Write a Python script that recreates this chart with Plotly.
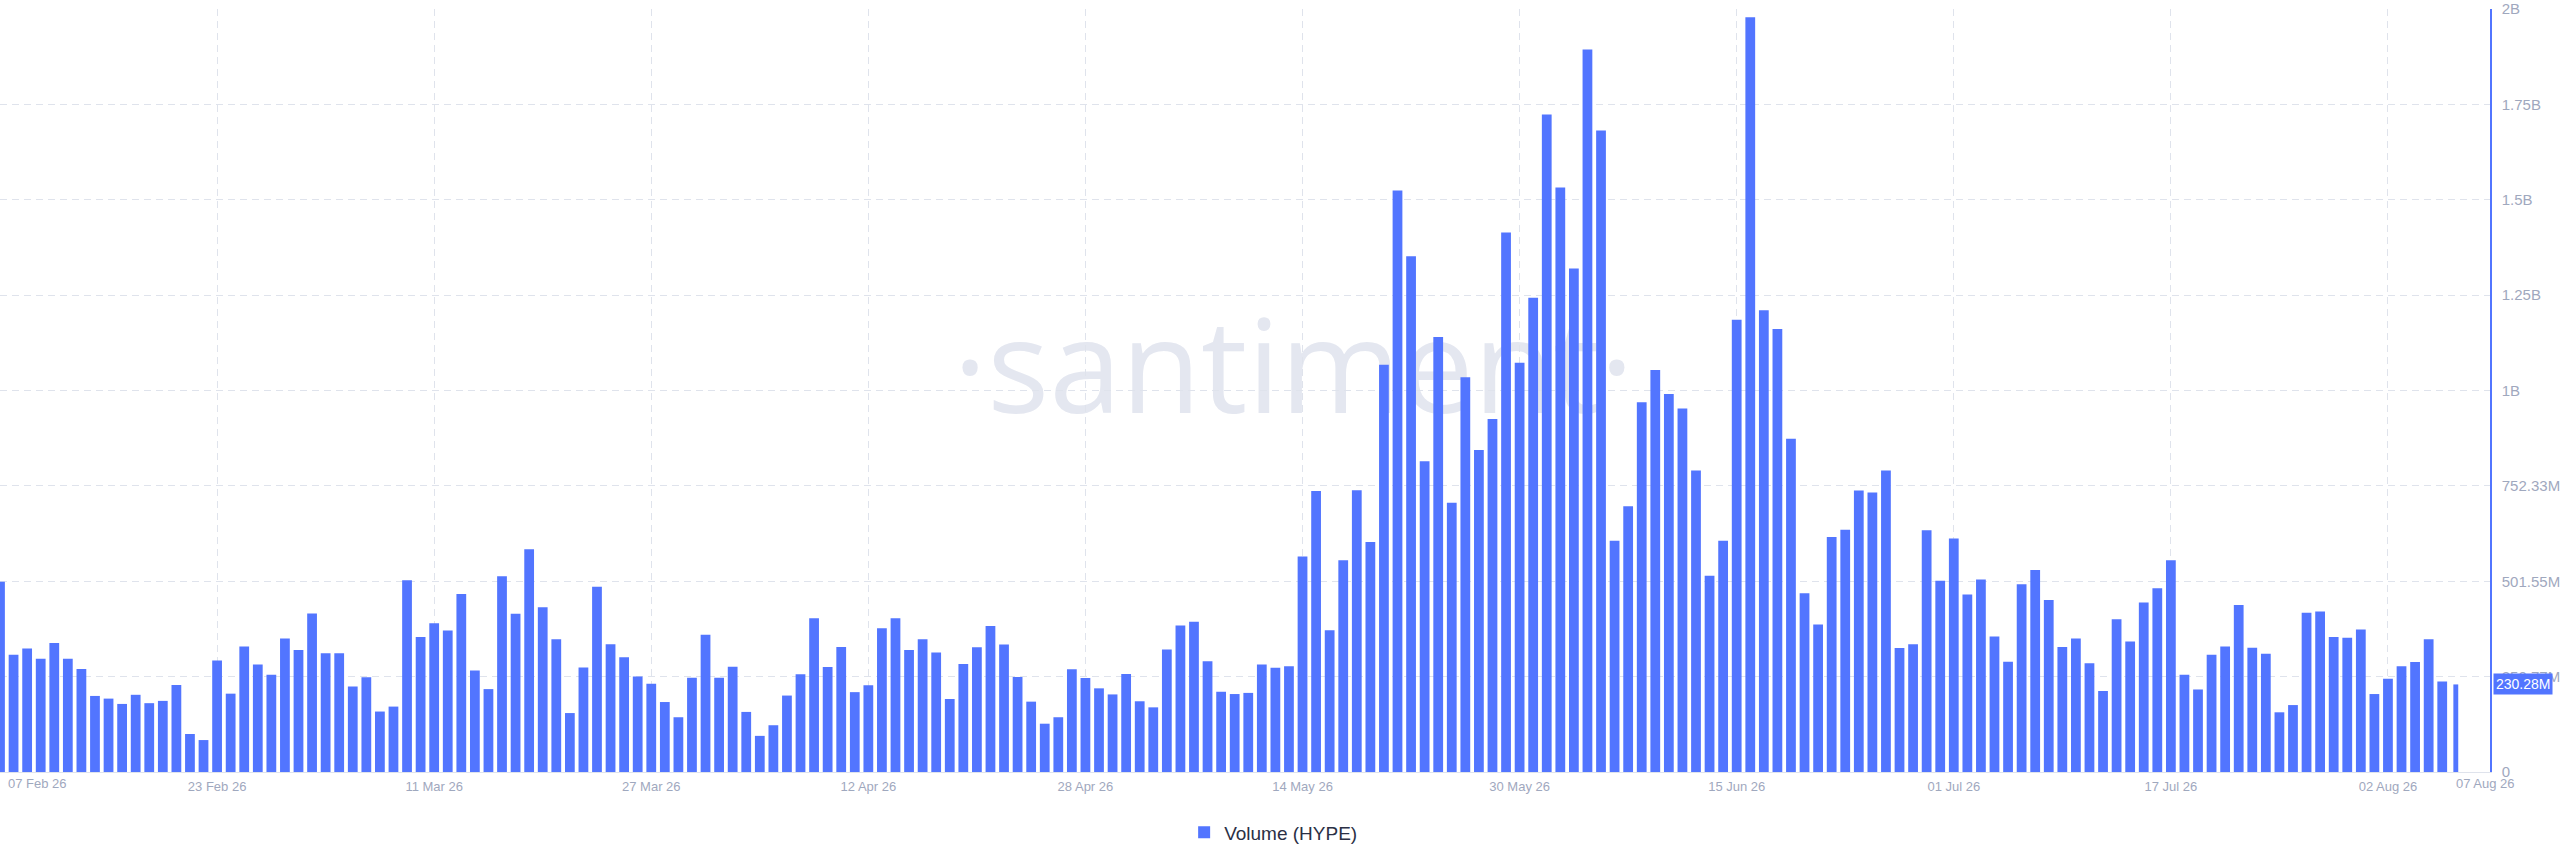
import pandas as pd
import plotly.graph_objects as go

START = "2026-02-07"
END = "2026-08-07"
SERIES_NAME = "Volume (HYPE)"
LAST_LABEL = "230.28M"

# daily volume in millions, one bar per day from 07 Feb 26 to 07 Aug 26
volume_m = [
    500, 308, 325, 298, 339, 298, 271, 200, 193, 179,
    203, 181, 187, 229, 100, 84, 293, 206, 330, 283,
    256, 351, 321, 417, 312, 312, 225, 249, 159, 172,
    504, 355, 391, 372, 468, 267, 218, 515, 416, 586,
    433, 349, 155, 275, 487, 336, 302, 251, 232, 184,
    144, 248, 361, 248, 277, 158, 95, 123, 201, 257,
    404, 276, 329, 210, 228, 378, 404, 321, 349, 314,
    192, 284, 328, 384, 335, 250, 185, 127, 144, 270,
    247, 220, 204, 258, 186, 170, 322, 385, 395, 291,
    211, 205, 208, 283, 274, 278, 567, 739, 373, 557,
    741, 605, 1071, 1529, 1356, 817, 1144, 708, 1038, 847,
    928, 1419, 1076, 1247, 1729, 1537, 1324, 1900, 1687, 608,
    699, 972, 1057, 994, 956, 793, 516, 608, 1189, 1985,
    1214, 1165, 876, 470, 388, 618, 637, 740, 735, 793,
    326, 336, 636, 503, 614, 467, 506, 356, 290, 494,
    531, 452, 329, 351, 286, 213, 402, 343, 446, 483,
    557, 256, 217, 308, 330, 439, 327, 311, 157, 176,
    419, 422, 355, 353, 375, 205, 245, 278, 289, 349,
    238, 230.28,
]

y_tickvals_m = [0, 250.776, 501.552, 752.328, 1003.104, 1253.88, 1504.656, 1755.432, 2006.208]
y_ticktext = ["0", "250.77M", "501.55M", "752.33M", "1B", "1.25B", "1.5B", "1.75B", "2B"]

x_tick_dates = [
    "2026-02-07", "2026-02-23", "2026-03-11", "2026-03-27", "2026-04-12", "2026-04-28",
    "2026-05-14", "2026-05-30", "2026-06-15", "2026-07-01", "2026-07-17", "2026-08-02",
]
x_ticktext = [
    "", "23 Feb 26", "11 Mar 26", "27 Mar 26", "12 Apr 26", "28 Apr 26",
    "14 May 26", "30 May 26", "15 Jun 26", "01 Jul 26", "17 Jul 26", "02 Aug 26",
]
first_label = "07 Feb 26"
end_label = "07 Aug 26"

BLUE = "#5275FF"
GRID = "#DFE3EC"
AXIS_TEXT = "#9FA8BE"
WATERMARK = "#E4E7F0"
DAY_MS = 86400000

dates = pd.date_range(START, END, freq="D")
assert len(dates) == len(volume_m)
values = [v * 1e6 for v in volume_m]
widths = [0.72 * DAY_MS] * (len(values) - 1) + [0.36 * DAY_MS]

fig = go.Figure()
fig.add_trace(go.Bar(
    x=dates, y=values, width=widths, name=SERIES_NAME,
    marker=dict(color=BLUE, line=dict(width=0)),
))

fig.update_layout(
    width=2560, height=867,
    margin=dict(l=0, r=67, t=9, b=95),
    paper_bgcolor="white", plot_bgcolor="rgba(0,0,0,0)",
    font=dict(family="Liberation Sans, Arial, sans-serif", color=AXIS_TEXT, size=13),
    showlegend=True,
    legend=dict(
        orientation="h", x=0.5115, xanchor="center", y=-0.079, yanchor="middle",
        font=dict(size=19, color="#2B3045"),
    ),
    xaxis=dict(
        type="date", range=["2026-02-07", "2026-08-09 12:30"],
        tickvals=x_tick_dates, ticktext=x_ticktext, ticks="",
        showgrid=True, gridcolor=GRID, griddash="7px,5px", gridwidth=1,
        showline=True, linecolor=GRID, linewidth=1,
        tickfont=dict(size=13, color=AXIS_TEXT), ticklabelstandoff=2,
    ),
    yaxis=dict(
        side="right", range=[0, y_tickvals_m[-1] * 1e6 + 2e5],
        tickvals=[v * 1e6 for v in y_tickvals_m], ticktext=y_ticktext, ticks="",
        showgrid=True, gridcolor=GRID, griddash="7px,5px", gridwidth=1,
        zeroline=False, showline=True, linecolor=BLUE, linewidth=1.5,
        tickfont=dict(size=15, color=AXIS_TEXT), ticklabelstandoff=7,
    ),
)

# watermark behind the bars
fig.add_shape(
    type="rect", xref="paper", yref="paper",
    x0=(1295 - 400) / 2493, x1=(1295 + 400) / 2493, y0=0.32, y1=0.73,
    line=dict(width=0), fillcolor="rgba(0,0,0,0)", layer="below",
    label=dict(
        text="·santiment·", textposition="middle center",
        font=dict(family="Open Sans, sans-serif", size=130, color=WATERMARK),
    ),
)

fig.add_annotation(
    x=START, xref="x", y=0, yref="paper", yanchor="top", xanchor="left",
    text=first_label, showarrow=False, xshift=6, yshift=-2,
    font=dict(size=13, color=AXIS_TEXT),
)
fig.add_annotation(
    x=END, xref="x", y=0, yref="paper", yanchor="top", xanchor="left",
    text=end_label, showarrow=False, xshift=-2, yshift=-2,
    font=dict(size=13, color=AXIS_TEXT),
)
fig.add_annotation(
    x=1, xref="paper", y=values[-1], yref="y", xanchor="left", yanchor="middle",
    text=LAST_LABEL, showarrow=False, xshift=3,
    bgcolor=BLUE, borderpad=2, font=dict(size=14, color="white"),
)

fig.write_html(
    "out.html",
    config={"displayModeBar": False},
    post_script="document.body.style.margin='0';",
)
